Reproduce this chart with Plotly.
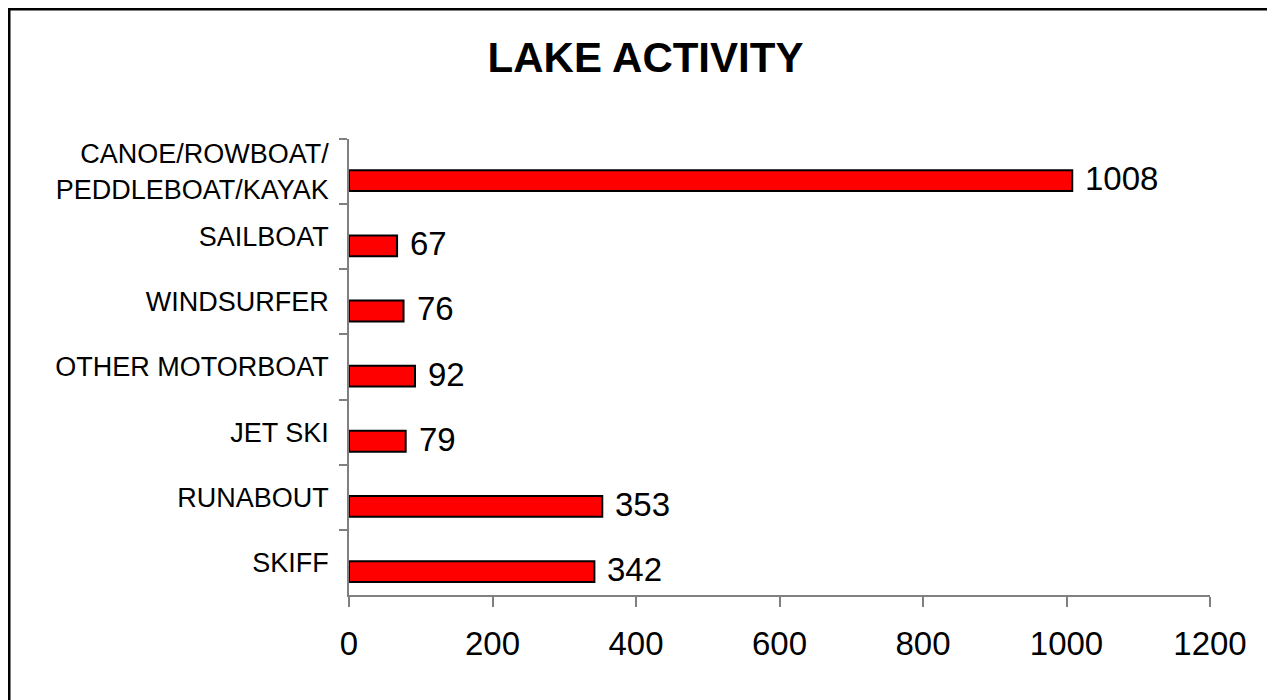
from plotly import graph_objects as go

# Dữ liệu
categories = ['CANOE/ROWBOAT/<br>PEDDLEBOAT/KAYAK', 'SAILBOAT', 'WINDSURFER',
              'OTHER MOTORBOAT', 'JET SKI', 'RUNABOUT', 'SKIFF']
counts = [1008, 67, 76, 92, 79, 353, 342]
x_ticks = [0, 200, 400, 600, 800, 1000, 1200]

FONT = 'Liberation Sans, Arial, sans-serif'

fig = go.Figure()

fig.add_trace(go.Bar(
    y=categories,
    x=counts,
    orientation='h',
    width=0.32,
    offset=-0.02,
    marker=dict(color='#ff0000', line=dict(color='#000000', width=2)),
    showlegend=False,
    hoverinfo='skip',
))

# nhãn giá trị bên phải mỗi cột
annotations = []
for cat, val in zip(categories, counts):
    annotations.append(dict(
        x=val, y=cat, xref='x', yref='y',
        text=str(val),
        showarrow=False,
        xanchor='left', yanchor='middle',
        xshift=11, yshift=-7,
        font=dict(family=FONT, size=33, color='#000000'),
    ))

# vùng vẽ: l=341, t=131, rộng 861, cao 456
pw, ph = 861, 456
# khung viền ngoài (chỉ thấy cạnh trái và trên)
fig.add_shape(type='rect', xref='paper', yref='paper',
              x0=(1 - 341) / pw, x1=(1290 - 341) / pw,
              y0=(587 - 720) / ph, y1=(587 - 1) / ph,
              line=dict(color='#000000', width=3))

fig.update_layout(
    width=1275, height=700,
    margin=dict(l=341, r=73, t=131, b=113),
    paper_bgcolor='white', plot_bgcolor='white',
    title=dict(text='<b>LAKE ACTIVITY</b>', x=0.5, xanchor='center',
               y=1 - 49 / 700, yanchor='middle',
               font=dict(family=FONT, size=42, color='#000000')),
    annotations=annotations,
)

fig.update_xaxes(
    range=[0, 1200], tickvals=x_ticks,
    showline=True, linecolor='#808080', linewidth=1.5,
    ticks='outside', ticklen=10, tickcolor='#808080', tickwidth=1.5,
    showgrid=False, zeroline=False,
    tickfont=dict(family=FONT, size=33, color='#000000'),
    ticklabelstandoff=9,
)
fig.update_yaxes(
    type='category', categoryorder='array', categoryarray=categories,
    autorange='reversed',
    showline=True, linecolor='#808080', linewidth=1.5,
    ticks='outside', ticklen=8, tickcolor='#808080', tickwidth=1.5,
    tickson='boundaries',
    showgrid=False, zeroline=False,
    tickfont=dict(family=FONT, size=27, color='#000000'),
    ticklabelstandoff=13,
)

fig.write_html('out.html')
